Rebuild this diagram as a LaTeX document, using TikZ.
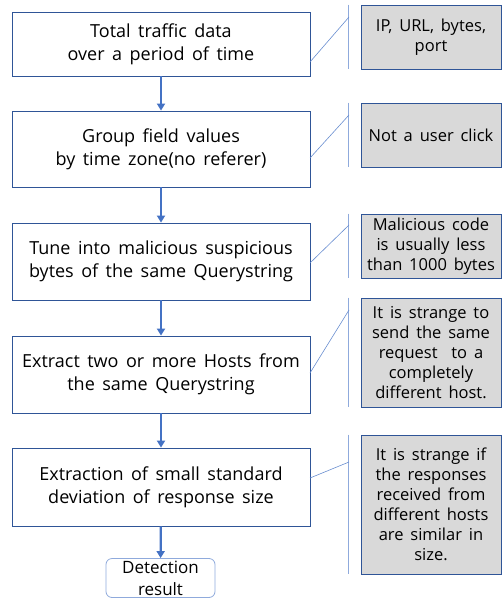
\documentclass[tikz,border=0pt]{standalone}
\usepackage{fontspec}
\setmainfont{Open Sans}[WordSpace=1.6]
\usepackage{tikz}
\usetikzlibrary{arrows.meta}

\definecolor{boxline}{HTML}{2F5597}
\definecolor{flowblue}{HTML}{4472C4}
\definecolor{notegray}{HTML}{D9D9D9}
\definecolor{barblue}{HTML}{8FAADC}

\tikzset{
  stepbox/.style={draw=boxline, line width=0.8pt, minimum width=298pt, align=center,
    font=\fontsize{18}{23}\selectfont, inner sep=0pt},
  notebox/.style={draw=boxline, line width=0.8pt, fill=notegray, minimum width=140pt,
    align=center, font=\fontsize{16.5}{20}\selectfont, inner sep=0pt},
  endbox/.style={draw=barblue, line width=0.8pt, rounded corners=6pt, minimum width=109pt,
    minimum height=39pt, align=center, font=\fontsize{17}{22}\selectfont, inner sep=0pt},
  flow/.style={draw=flowblue, line width=2.2pt, -{Triangle[length=7pt,width=8pt]}},
  bar/.style={draw=barblue, line width=1pt},
  lead/.style={draw=flowblue!80, line width=0.6pt}
}

\begin{document}
\begin{tikzpicture}[x=1pt,y=-1pt]
    \useasboundingbox (0,0) rectangle (502,599);
    % main steps
    \node[stepbox, minimum height=64pt] (n1) at (161,44) {Total traffic data\\over a period of time};
    \node[stepbox, minimum height=76pt] (n2) at (161,149) {Group field values\\by time zone(no referer)};
    \node[stepbox, minimum height=77pt] (n3) at (161,261.5) {Tune into malicious suspicious\\bytes of the same Querystring};
    \node[stepbox, minimum height=77pt] (n4) at (161,374.5) {Extract two or more Hosts from\\the same Querystring};
    \node[stepbox, minimum height=78pt] (n5) at (161,487) {Extraction of small standard\\deviation of response size};
    \node[endbox] (n6) at (160.5,578) {Detection\\result};
    % notes
    \node[notebox, minimum height=64pt] (c1) at (431,37) {IP, URL, bytes,\\port};
    \node[notebox, minimum height=64pt] (c2) at (431,135) {Not a user click};
    \node[notebox, minimum height=64pt] (c3) at (431,246) {Malicious code\\is usually less\\than 1000 bytes};
    \node[notebox, minimum height=109pt] (c4) at (431,352.5) {It is strange to\\send the same\\request~ to a\\completely\\different host.};
    \node[notebox, minimum height=139pt] (c5) at (431,504.5) {It is strange if\\the responses\\received from\\different hosts\\are similar in\\size.};
    % flow
    \draw[flow] (n1) -- (n2);
    \draw[flow] (n2) -- (n3);
    \draw[flow] (n3) -- (n4);
    \draw[flow] (n4) -- (n5);
    \draw[flow] (n5) -- (n6);
    % callout bars and leaders
    \foreach \c/\s/\a/\b in {c1/n1/62/17, c2/n2/158/115, c3/n3/263/225, c4/n4/373/310, c5/n5/478/462} {
        \draw[bar] ([xshift=-12pt]\c.north west) -- ([xshift=-12pt]\c.south west);
        \coordinate (\c-a) at (310,\a);
        \coordinate (\c-b) at (349,\b);
        \draw[lead] (\c-a) -- (\c-b);
    }
\end{tikzpicture}
\end{document}
